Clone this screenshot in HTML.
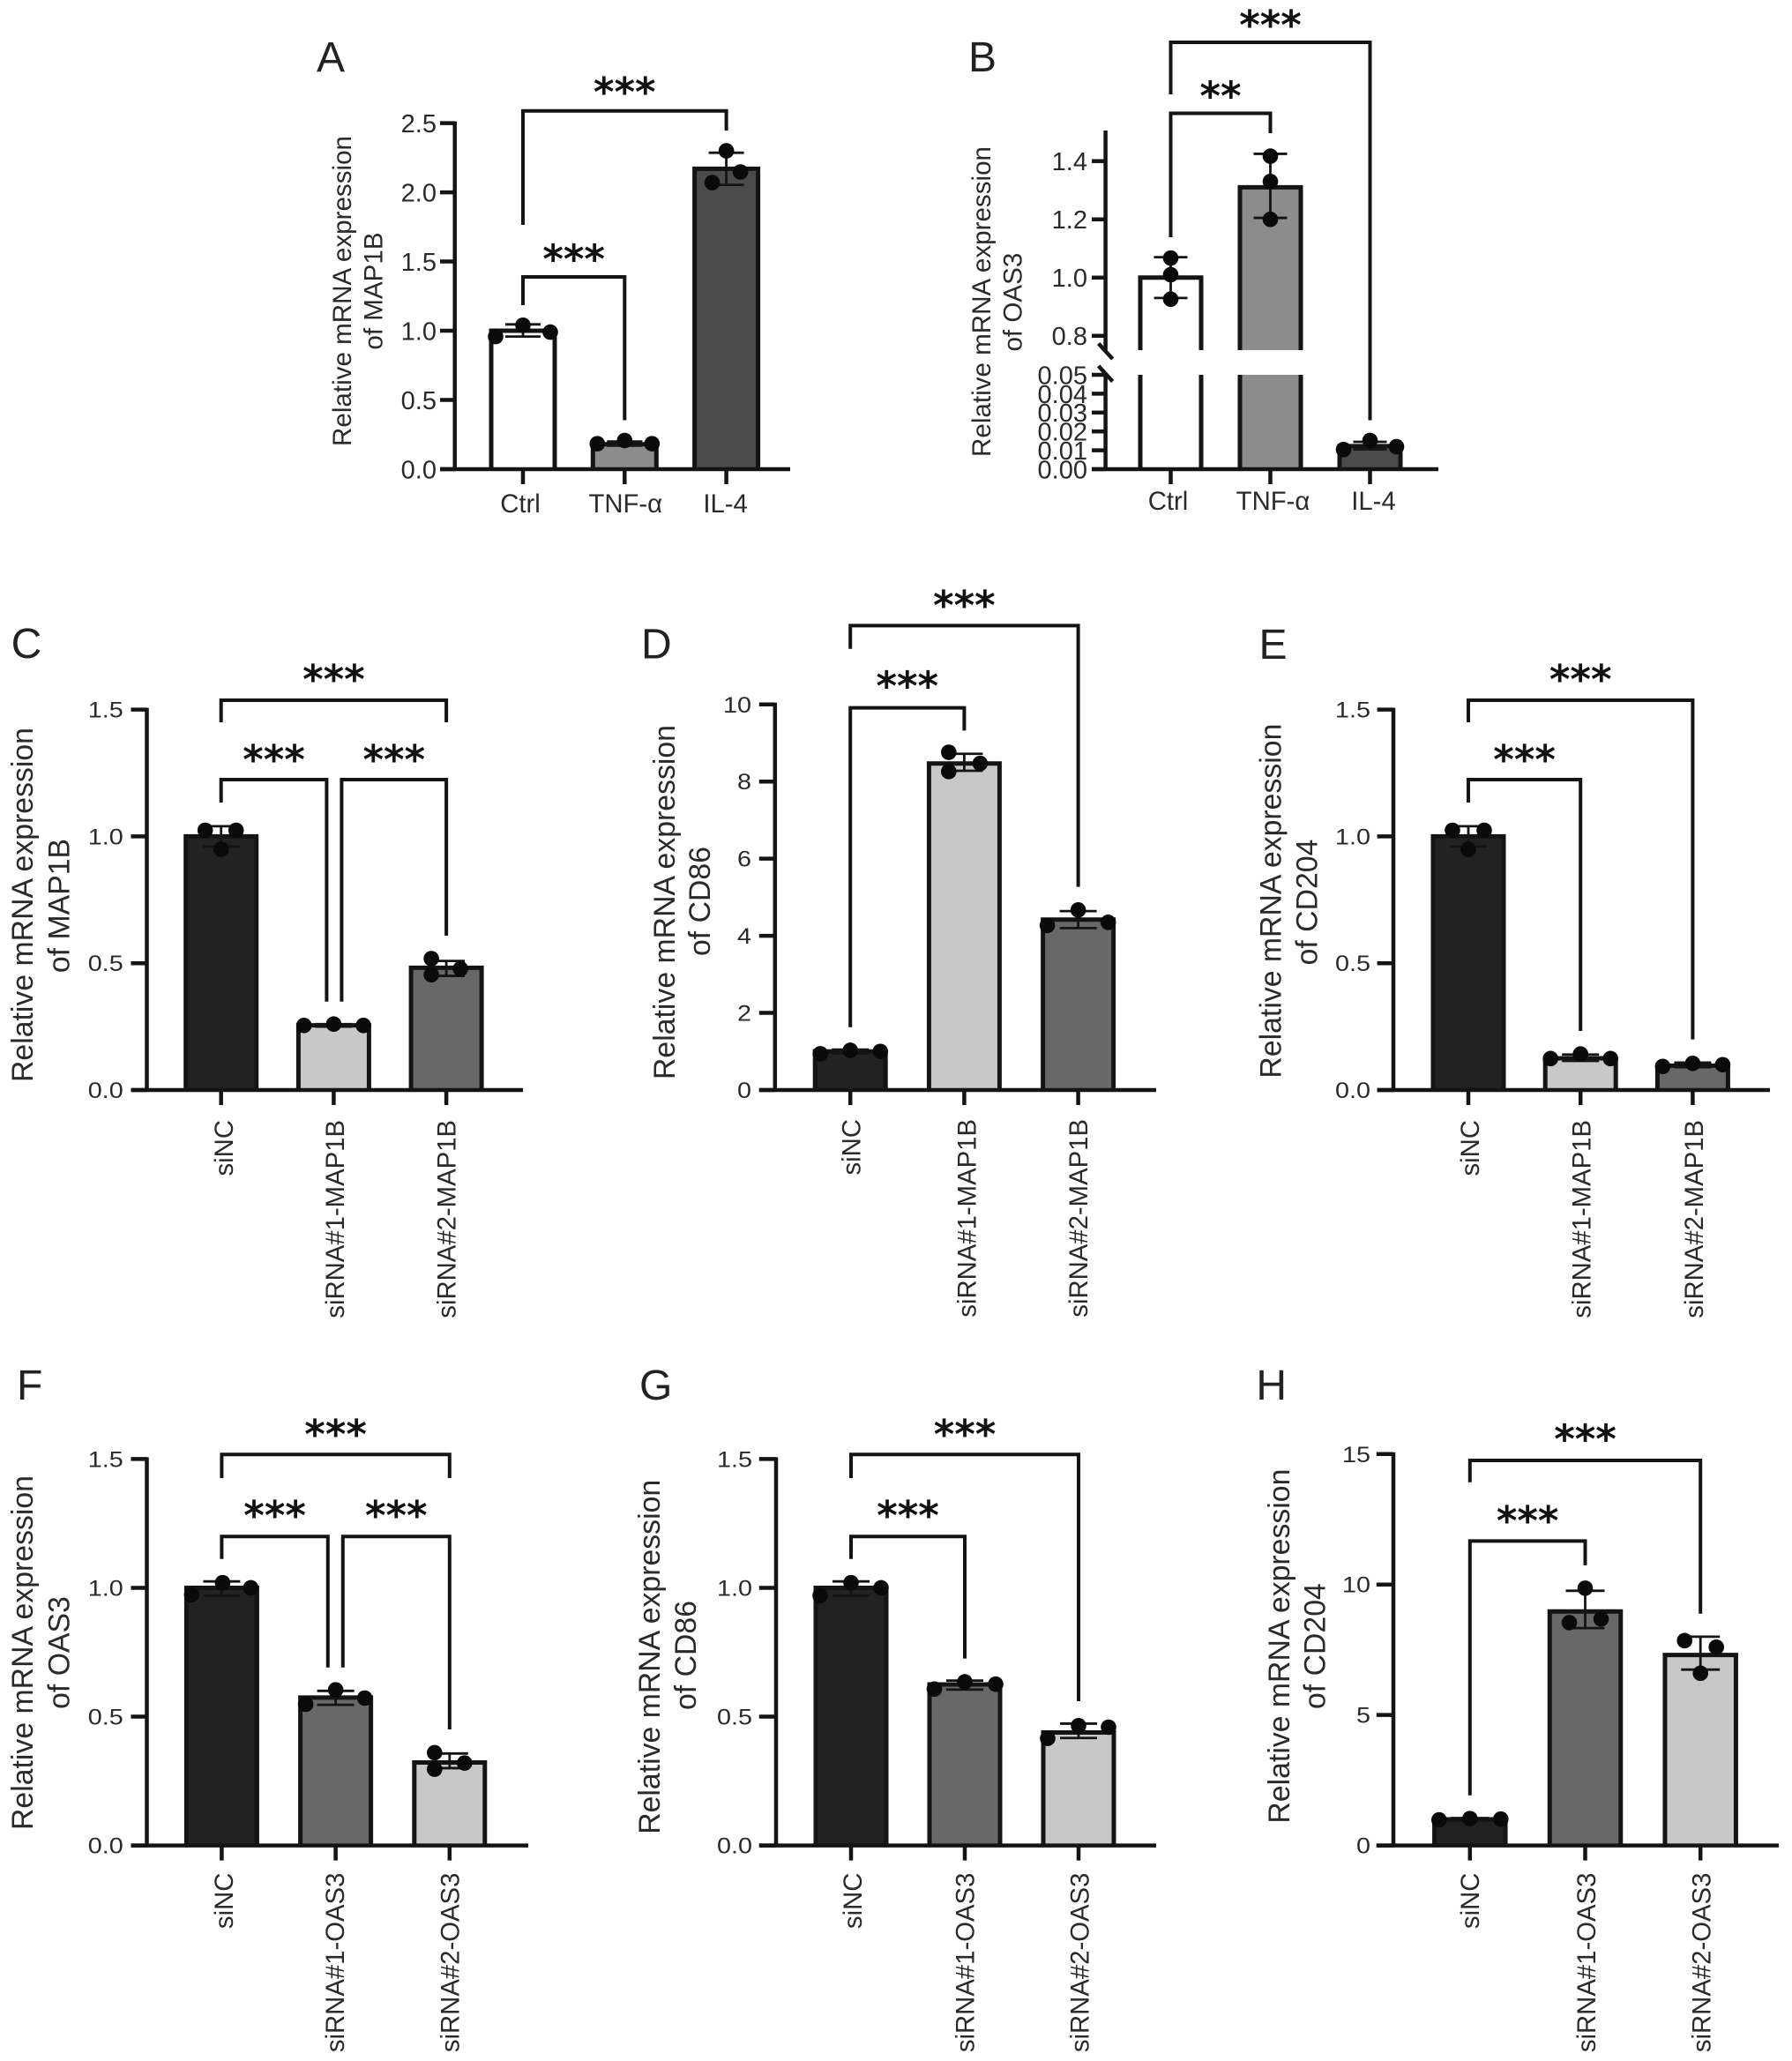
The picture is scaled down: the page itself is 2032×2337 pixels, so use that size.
<!DOCTYPE html>
<html lang="en">
<head>
<meta charset="utf-8">
<title>Relative mRNA expression panels A–H</title>
<style>
html,body{margin:0;padding:0;background:#fff;}
svg{display:block;}
text{font-family:"Liberation Sans",Arial,sans-serif;fill:#2a2a2a;}
.letter{font-size:48px;fill:#222;}
.t1{font-size:29.6px;text-anchor:middle;}
.t2{font-size:33.8px;text-anchor:middle;}
</style>
</head>
<body>
<svg id="figure" xmlns="http://www.w3.org/2000/svg" width="2032" height="2337" viewBox="0 0 2032 2337">
  <rect x="0" y="0" width="2032" height="2337" fill="#ffffff"/>

  <text class="letter" x="359" y="81">A</text>
  <text class="letter" x="1098" y="81">B</text>
  <text class="letter" x="12.6" y="746">C</text>
  <text class="letter" x="727" y="746.7">D</text>
  <text class="letter" x="1427.5" y="747">E</text>
  <text class="letter" x="19" y="1587">F</text>
  <text class="letter" x="725" y="1587">G</text>
  <text class="letter" x="1424.4" y="1587">H</text>

  <g>
    <text class="t1" transform="translate(398 330) rotate(-90)">Relative mRNA expression</text>
    <text class="t1" transform="translate(433.6 330) rotate(-90)">of MAP1B</text>
  </g>
  <g>
    <text class="t1" transform="translate(1123 342) rotate(-90)">Relative mRNA expression</text>
    <text class="t1" transform="translate(1158.6 342.6) rotate(-90)">of OAS3</text>
  </g>
  <g>
    <text class="t2" transform="translate(37 1026) rotate(-90)">Relative mRNA expression</text>
    <text class="t2" transform="translate(78.5 1027) rotate(-90)">of MAP1B</text>
  </g>
  <g>
    <text class="t2" transform="translate(764.8 1023) rotate(-90)">Relative mRNA expression</text>
    <text class="t2" transform="translate(805 1022) rotate(-90)">of CD86</text>
  </g>
  <g>
    <text class="t2" transform="translate(1452.5 1021.6) rotate(-90)">Relative mRNA expression</text>
    <text class="t2" transform="translate(1493.5 1023) rotate(-90)">of CD204</text>
  </g>
  <g>
    <text class="t2" transform="translate(37 1874) rotate(-90)">Relative mRNA expression</text>
    <text class="t2" transform="translate(78.5 1874) rotate(-90)">of OAS3</text>
  </g>
  <g>
    <text class="t2" transform="translate(748 1878.8) rotate(-90)">Relative mRNA expression</text>
    <text class="t2" transform="translate(789 1877) rotate(-90)">of CD86</text>
  </g>
  <g>
    <text class="t2" transform="translate(1462 1866.6) rotate(-90)">Relative mRNA expression</text>
    <text class="t2" transform="translate(1502.3 1866.6) rotate(-90)">of CD204</text>
  </g>
</svg>

<script>
// ---------- chart data ----------
const panelACategories = ['Ctrl', 'TNF-α', 'IL-4'];
const panelAMeans = [1.0, 0.18, 2.17];
const panelAErrLow = [0.958, 0.17, 2.054];
const panelAErrHigh = [1.046, 0.2, 2.286];
const panelAReplicates = [[0.958, 1.04, 0.99], [0.184, 0.207, 0.184], [2.07, 2.30, 2.147]];
const panelAYTicks = ['0.0', '0.5', '1.0', '1.5', '2.0', '2.5'];

const panelBCategories = ['Ctrl', 'TNF-α', 'IL-4'];
const panelBMeans = [1.0, 1.31, 0.0122];
const panelBErrLow = [0.93, 1.205, 0.0105];
const panelBErrHigh = [1.07, 1.425, 0.0145];
const panelBReplicates = [[1.067, 1.01, 0.926], [1.417, 1.33, 1.2], [0.0104, 0.0152, 0.0119]];
const panelBYTicks = ['0.00', '0.01', '0.02', '0.03', '0.04', '0.05', '0.8', '1.0', '1.2', '1.4'];

const panelCCategories = ['siNC', 'siRNA#1-MAP1B', 'siRNA#2-MAP1B'];
const panelCMeans = [1.0, 0.255, 0.482];
const panelCErrLow = [0.96, 0.25, 0.45];
const panelCErrHigh = [1.04, 0.26, 0.509];
const panelCReplicates = [[1.024, 0.949, 1.024], [0.2545, 0.26, 0.2545], [0.518, 0.4545, 0.478]];
const panelCYTicks = ['0.0', '0.5', '1.0', '1.5'];

const panelDCategories = ['siNC', 'siRNA#1-MAP1B', 'siRNA#2-MAP1B'];
const panelDMeans = [1.0, 8.47, 4.42];
const panelDErrLow = [0.95, 8.28, 4.2];
const panelDErrHigh = [1.05, 8.72, 4.64];
const panelDReplicates = [[0.94, 1.03, 1.0], [8.76, 8.26, 8.47], [4.27, 4.67, 4.35]];
const panelDYTicks = ['0', '2', '4', '6', '8', '10'];

const panelECategories = ['siNC', 'siRNA#1-MAP1B', 'siRNA#2-MAP1B'];
const panelEMeans = [1.0, 0.125, 0.096];
const panelEErrLow = [0.96, 0.115, 0.09];
const panelEErrHigh = [1.04, 0.14, 0.108];
const panelEReplicates = [[1.024, 0.949, 1.024], [0.124, 0.142, 0.124], [0.093, 0.105, 0.1]];
const panelEYTicks = ['0.0', '0.5', '1.0', '1.5'];

const panelFCategories = ['siNC', 'siRNA#1-OAS3', 'siRNA#2-OAS3'];
const panelFMeans = [1.0, 0.574, 0.322];
const panelFErrLow = [0.97, 0.546, 0.3];
const panelFErrHigh = [1.025, 0.6, 0.357];
const panelFReplicates = [[0.973, 1.02, 1.0], [0.548, 0.604, 0.572], [0.36, 0.296, 0.32]];
const panelFYTicks = ['0.0', '0.5', '1.0', '1.5'];

const panelGCategories = ['siNC', 'siRNA#1-OAS3', 'siRNA#2-OAS3'];
const panelGMeans = [1.0, 0.625, 0.4385];
const panelGErrLow = [0.97, 0.605, 0.417];
const panelGErrHigh = [1.025, 0.64, 0.473];
const panelGReplicates = [[0.97, 1.02, 1.0], [0.607, 0.635, 0.626], [0.416, 0.465, 0.459]];
const panelGYTicks = ['0.0', '0.5', '1.0', '1.5'];

const panelHCategories = ['siNC', 'siRNA#1-OAS3', 'siRNA#2-OAS3'];
const panelHMeans = [1.0, 8.97, 7.3];
const panelHErrLow = [0.95, 8.33, 6.74];
const panelHErrHigh = [1.05, 9.76, 8.0];
const panelHReplicates = [[0.98, 1.03, 1.01], [9.86, 8.54, 8.68], [7.85, 7.6, 6.6]];
const panelHYTicks = ['0', '5', '10', '15'];

// ---------- fills ----------
const fillsAB = ['#ffffff', '#8c8c8c', '#4b4b4b'];
const fillsCDE = ['#222222', '#c8c8c8', '#686868'];
const fillsFGH = ['#222222', '#686868', '#c8c8c8'];

// ---------- axis functions ----------
function linearAxis(d0, d1, r0, r1) {
  return function (v) { return r0 + (v - d0) / (d1 - d0) * (r1 - r0); };
}
function brokenAxis(lo, hi) {
  return function (v) { return v <= 0.05 ? lo(v) : hi(v); };
}

// ---------- layout (pixels live here, not in the data arrays) ----------
const spreadWide = [-34, 0, 34];
const panels = [
  { id: 'a', cats: panelACategories, means: panelAMeans, lo: panelAErrLow, hi: panelAErrHigh, reps: panelAReplicates, ticks: panelAYTicks, fills: fillsAB,
    y: linearAxis(0, 2.5, 532, 139.6), axisX: 515.7, tickX: 499, endX: 896, axisTop: 139.6, base: 532, first: 593, step: 115.3, barW: 72, capW: 20,
    labelX: 495, tickFs: 29, tickSx: 1, rotated: false, catBase: 581, catDx: [-3, 1, -1],
    jitter: [[-31, 0, 31], [-31, 0, 31], [-16, 0, 16]],
    brackets: [
      { a: 0, b: 2, y: 125.7, endA: 255, endB: 148, stars: '***', starY: 99 },
      { a: 0, b: 1, y: 314, endA: 346, endB: 476.5, stars: '***', starY: 288.6 }
    ] },
  { id: 'b', cats: panelBCategories, means: panelBMeans, lo: panelBErrLow, hi: panelBErrHigh, reps: panelBReplicates, ticks: panelBYTicks, fills: fillsAB,
    y: brokenAxis(linearAxis(0, 0.05, 532, 425), linearAxis(0.8, 1.4, 380.8, 182.7)), axisX: 1253.6, tickX: 1238, endX: 1631, axisTop: 148, base: 532, first: 1327.5, step: 113, barW: 69, capW: 19,
    labelX: 1233, tickFs: 29, tickSx: 1, rotated: false, catBase: 578, catDx: [-3, 3, 4],
    gap: [397, 425],
    jitter: [[0, 0, 0], [0, 0, 0], [-30, 0, 30]],
    brackets: [
      { a: 0, b: 2, y: 48, endA: 107, endB: 476.5, stars: '***', starY: 23 },
      { a: 0, b: 1, y: 128.5, endA: 269, endB: 151, stars: '**', starY: 103.6 }
    ] },
  { id: 'c', cats: panelCCategories, means: panelCMeans, lo: panelCErrLow, hi: panelCErrHigh, reps: panelCReplicates, ticks: panelCYTicks, fills: fillsCDE,
    y: linearAxis(0, 1.5, 1236, 804.6), axisX: 166.5, tickX: 148.5, endX: 593, axisTop: 804.6, base: 1236, first: 250.7, step: 127.7, barW: 80, capW: 21,
    labelX: 139.7, tickFs: 25, tickSx: 1.15, rotated: true, catBase: 1270, catDx: [13.3, 11.6, 10.6],
    jitter: [[-18, 0, 17], [-33.7, 0, 33.7], [-17, -17, 16]],
    brackets: [
      { a: 0, b: 2, y: 794, endA: 819, endB: 819, stars: '***', starY: 765 },
      { a: 0, b: 1, db: -8, y: 884, endA: 910, endB: 1135.7, stars: '***', starY: 856 },
      { a: 1, b: 2, da: 9, y: 884, endA: 1135.7, endB: 1061, stars: '***', starY: 856 }
    ] },
  { id: 'd', cats: panelDCategories, means: panelDMeans, lo: panelDErrLow, hi: panelDErrHigh, reps: panelDReplicates, ticks: panelDYTicks, fills: fillsCDE,
    y: linearAxis(0, 10, 1236, 798.8), axisX: 878.8, tickX: 860.8, endX: 1311, axisTop: 798.8, base: 1236, first: 964.2, step: 129.2, barW: 80, capW: 21,
    labelX: 852, tickFs: 25, tickSx: 1.15, rotated: true, catBase: 1269, catDx: [11.4, 13, 10.3],
    jitter: [spreadWide, [-17.6, -17.6, 18], [-35, 0, 34]],
    brackets: [
      { a: 0, b: 2, y: 709.4, endA: 735.7, endB: 1005.6, stars: '***', starY: 681 },
      { a: 0, b: 1, y: 802.6, endA: 1164.7, endB: 828.4, stars: '***', starY: 772.5 }
    ] },
  { id: 'e', cats: panelECategories, means: panelEMeans, lo: panelEErrLow, hi: panelEErrHigh, reps: panelEReplicates, ticks: panelEYTicks, fills: fillsCDE,
    y: linearAxis(0, 1.5, 1236, 804.6), axisX: 1580, tickX: 1561.6, endX: 2007, axisTop: 804.6, base: 1236, first: 1665, step: 127.2, barW: 80, capW: 21,
    labelX: 1554, tickFs: 25, tickSx: 1.15, rotated: true, catBase: 1270, catDx: [12, 11.5, 11.6],
    jitter: [[-18, 0, 18], spreadWide, spreadWide],
    brackets: [
      { a: 0, b: 2, y: 794, endA: 819, endB: 1178.6, stars: '***', starY: 765 },
      { a: 0, b: 1, y: 884, endA: 910, endB: 1169, stars: '***', starY: 856 }
    ] },
  { id: 'f', cats: panelFCategories, means: panelFMeans, lo: panelFErrLow, hi: panelFErrHigh, reps: panelFReplicates, ticks: panelFYTicks, fills: fillsFGH,
    y: linearAxis(0, 1.5, 2092.6, 1654.4), axisX: 166.5, tickX: 148.5, endX: 599, axisTop: 1654.4, base: 2092.6, first: 251.4, step: 129.2, barW: 80, capW: 21,
    labelX: 139.7, tickFs: 25, tickSx: 1.15, rotated: true, catBase: 2123.6, catDx: [12.6, 9.6, 10.7],
    jitter: [[-34, 1, 33], [-34, 0, 33], [-17, -17, 17]],
    brackets: [
      { a: 0, b: 2, y: 1649.3, endA: 1676, endB: 1676, stars: '***', starY: 1621 },
      { a: 0, b: 1, db: -8.8, y: 1742.3, endA: 1767.8, endB: 1890.8, stars: '***', starY: 1712.9 },
      { a: 1, b: 2, da: 8.2, y: 1742.3, endA: 1890.8, endB: 1961, stars: '***', starY: 1712.9 }
    ] },
  { id: 'g', cats: panelGCategories, means: panelGMeans, lo: panelGErrLow, hi: panelGErrHigh, reps: panelGReplicates, ticks: panelGYTicks, fills: fillsFGH,
    y: linearAxis(0, 1.5, 2092.6, 1654.4), axisX: 880, tickX: 860.8, endX: 1311, axisTop: 1654.4, base: 2092.6, first: 965, step: 129, barW: 80, capW: 21,
    labelX: 853, tickFs: 25, tickSx: 1.15, rotated: true, catBase: 2123.6, catDx: [12, 10.7, 11.7],
    jitter: [[-35, 0, 34], [-34.5, 0, 35], [-35, 0, 34]],
    brackets: [
      { a: 0, b: 2, y: 1649.3, endA: 1676, endB: 1929, stars: '***', starY: 1621 },
      { a: 0, b: 1, y: 1742.3, endA: 1767.8, endB: 1880.6, stars: '***', starY: 1712.9 }
    ] },
  { id: 'h', cats: panelHCategories, means: panelHMeans, lo: panelHErrLow, hi: panelHErrHigh, reps: panelHReplicates, ticks: panelHYTicks, fills: fillsFGH,
    y: linearAxis(0, 15, 2092.6, 1648.8), axisX: 1580, tickX: 1560.8, endX: 2017, axisTop: 1648.8, base: 2092.6, first: 1666.8, step: 130.7, barW: 80.5, capW: 22,
    labelX: 1554, tickFs: 25, tickSx: 1.15, rotated: true, catBase: 2123.6, catDx: [10.2, 11.3, 11.5],
    jitter: [[-35, 0, 35], [0, -18, 18], [-18, 18, 0]],
    brackets: [
      { a: 0, b: 2, y: 1656, endA: 1680.8, endB: 1829.8, stars: '***', starY: 1626.4 },
      { a: 0, b: 1, y: 1747.4, endA: 2035.7, endB: 1774.9, stars: '***', starY: 1719 }
    ] }
];

// ---------- drawing ----------
const NS = 'http://www.w3.org/2000/svg';
const INK = '#141414';
const figure = document.getElementById('figure');

function draw(parent, tag, attrs, text) {
  const el = document.createElementNS(NS, tag);
  for (const k in attrs) el.setAttribute(k, attrs[k]);
  if (text !== undefined) el.textContent = text;
  parent.appendChild(el);
  return el;
}

panels.forEach(function (p) {
  const g = draw(figure, 'g', {});
  
  
  const center = function (i) { return p.first + p.step * i; };

  // bars
  p.means.forEach(function (m, i) {
    const cx = center(i), top = p.y(m), left = cx - p.barW / 2, right = cx + p.barW / 2;
    const bar = draw(g, 'rect', { x: left, y: top, width: p.barW, height: p.base - top, fill: p.fills[i] });
    
    
    let d = 'M' + left + ' ' + p.base + 'V' + top + 'H' + right + 'V' + p.base;
    if (p.gap && top < p.gap[0]) {
      const cut = draw(g, 'rect', { x: left - 4, y: p.gap[0], width: p.barW + 8, height: p.gap[1] - p.gap[0], fill: '#ffffff' });
      
      
      d = 'M' + left + ' ' + p.gap[0] + 'V' + top + 'H' + right + 'V' + p.gap[0] +
          'M' + left + ' ' + p.gap[1] + 'V' + p.base + 'M' + right + ' ' + p.gap[1] + 'V' + p.base;
    }
    const outline = draw(g, 'path', { d: d, fill: 'none', stroke: INK, 'stroke-width': 5 });
    
    
  });

  // axes
  const yAxis = draw(g, 'path', {
    d: p.gap ? 'M' + p.axisX + ' ' + p.axisTop + 'V' + (p.gap[0] + 1) + 'M' + p.axisX + ' ' + (p.gap[1] - 1) + 'V' + p.base
             : 'M' + p.axisX + ' ' + (p.axisTop - 2) + 'V' + p.base,
    stroke: INK, 'stroke-width': 4.5, fill: 'none' });
  
  

  const xAxis = draw(g, 'line', { x1: p.tickX, x2: p.endX, y1: p.base, y2: p.base, stroke: INK, 'stroke-width': 4.5 });
  
  

  if (p.gap) {
    [p.gap[0] - 7.5, p.gap[1] - 10].forEach(function (sy, k) {
      const slash = draw(g, 'line', { x1: p.axisX - 8, x2: p.axisX + 8, y1: sy, y2: sy + 17.5, stroke: INK, 'stroke-width': 4.5 });
      
      
    });
  }

  // y ticks
  p.ticks.forEach(function (label) {
    const ty = p.y(parseFloat(label));
    const tick = draw(g, 'line', { x1: p.tickX, x2: p.axisX, y1: ty, y2: ty, stroke: INK, 'stroke-width': 4.5 });
    
    
    const t = draw(g, 'text', {
      transform: 'translate(' + p.labelX + ' ' + (ty + p.tickFs * 0.36) + ') scale(' + p.tickSx + ' 1)',
      'text-anchor': 'end', 'font-size': p.tickFs }, label);
    
    
  });

  // x ticks and category labels
  p.cats.forEach(function (cat, i) {
    const cx = center(i);
    const tick = draw(g, 'line', { x1: cx, x2: cx, y1: p.base, y2: p.base + 17, stroke: INK, 'stroke-width': 4.5 });
    
    
    const lx = cx + p.catDx[i];
    const attrs = p.rotated
      ? { transform: 'translate(' + lx + ' ' + p.catBase + ') rotate(-90)', 'text-anchor': 'end', 'font-size': 29.3 }
      : { x: lx, y: p.catBase, 'text-anchor': 'middle', 'font-size': 29.3 };
    const t = draw(g, 'text', attrs, cat);
    
    
  });

  // error bars
  p.means.forEach(function (m, i) {
    const cx = center(i), yl = p.y(p.lo[i]), yh = p.y(p.hi[i]);
    const err = draw(g, 'path', {
      d: 'M' + cx + ' ' + yl + 'V' + yh + 'M' + (cx - p.capW) + ' ' + yh + 'H' + (cx + p.capW) + 'M' + (cx - p.capW) + ' ' + yl + 'H' + (cx + p.capW),
      stroke: INK, 'stroke-width': 2.8, fill: 'none' });
    
    
  });

  // replicate points
  p.reps.forEach(function (set, i) {
    set.forEach(function (v, j) {
      const dot = draw(g, 'circle', { cx: center(i) + p.jitter[i][j], cy: p.y(v), r: 8.8, fill: '#0a0a0a' });
      
      
    });
  });

  // significance brackets
  p.brackets.forEach(function (b, k) {
    const x1 = center(b.a) + (b.da || 0), x2 = center(b.b) + (b.db || 0);
    const br = draw(g, 'path', {
      d: 'M' + x1 + ' ' + b.endA + 'V' + b.y + 'H' + x2 + 'V' + b.endB,
      stroke: INK, 'stroke-width': 4, fill: 'none' });
    
    
    const s = draw(g, 'text', {
      x: (x1 + x2) / 2, y: b.starY + 21, 'text-anchor': 'middle', 'font-size': 45, 'font-weight': 700,
      style: 'fill:#111;font-family:"DejaVu Sans",sans-serif' }, b.stars);
    
    
  });
});
</script>
</body>
</html>
